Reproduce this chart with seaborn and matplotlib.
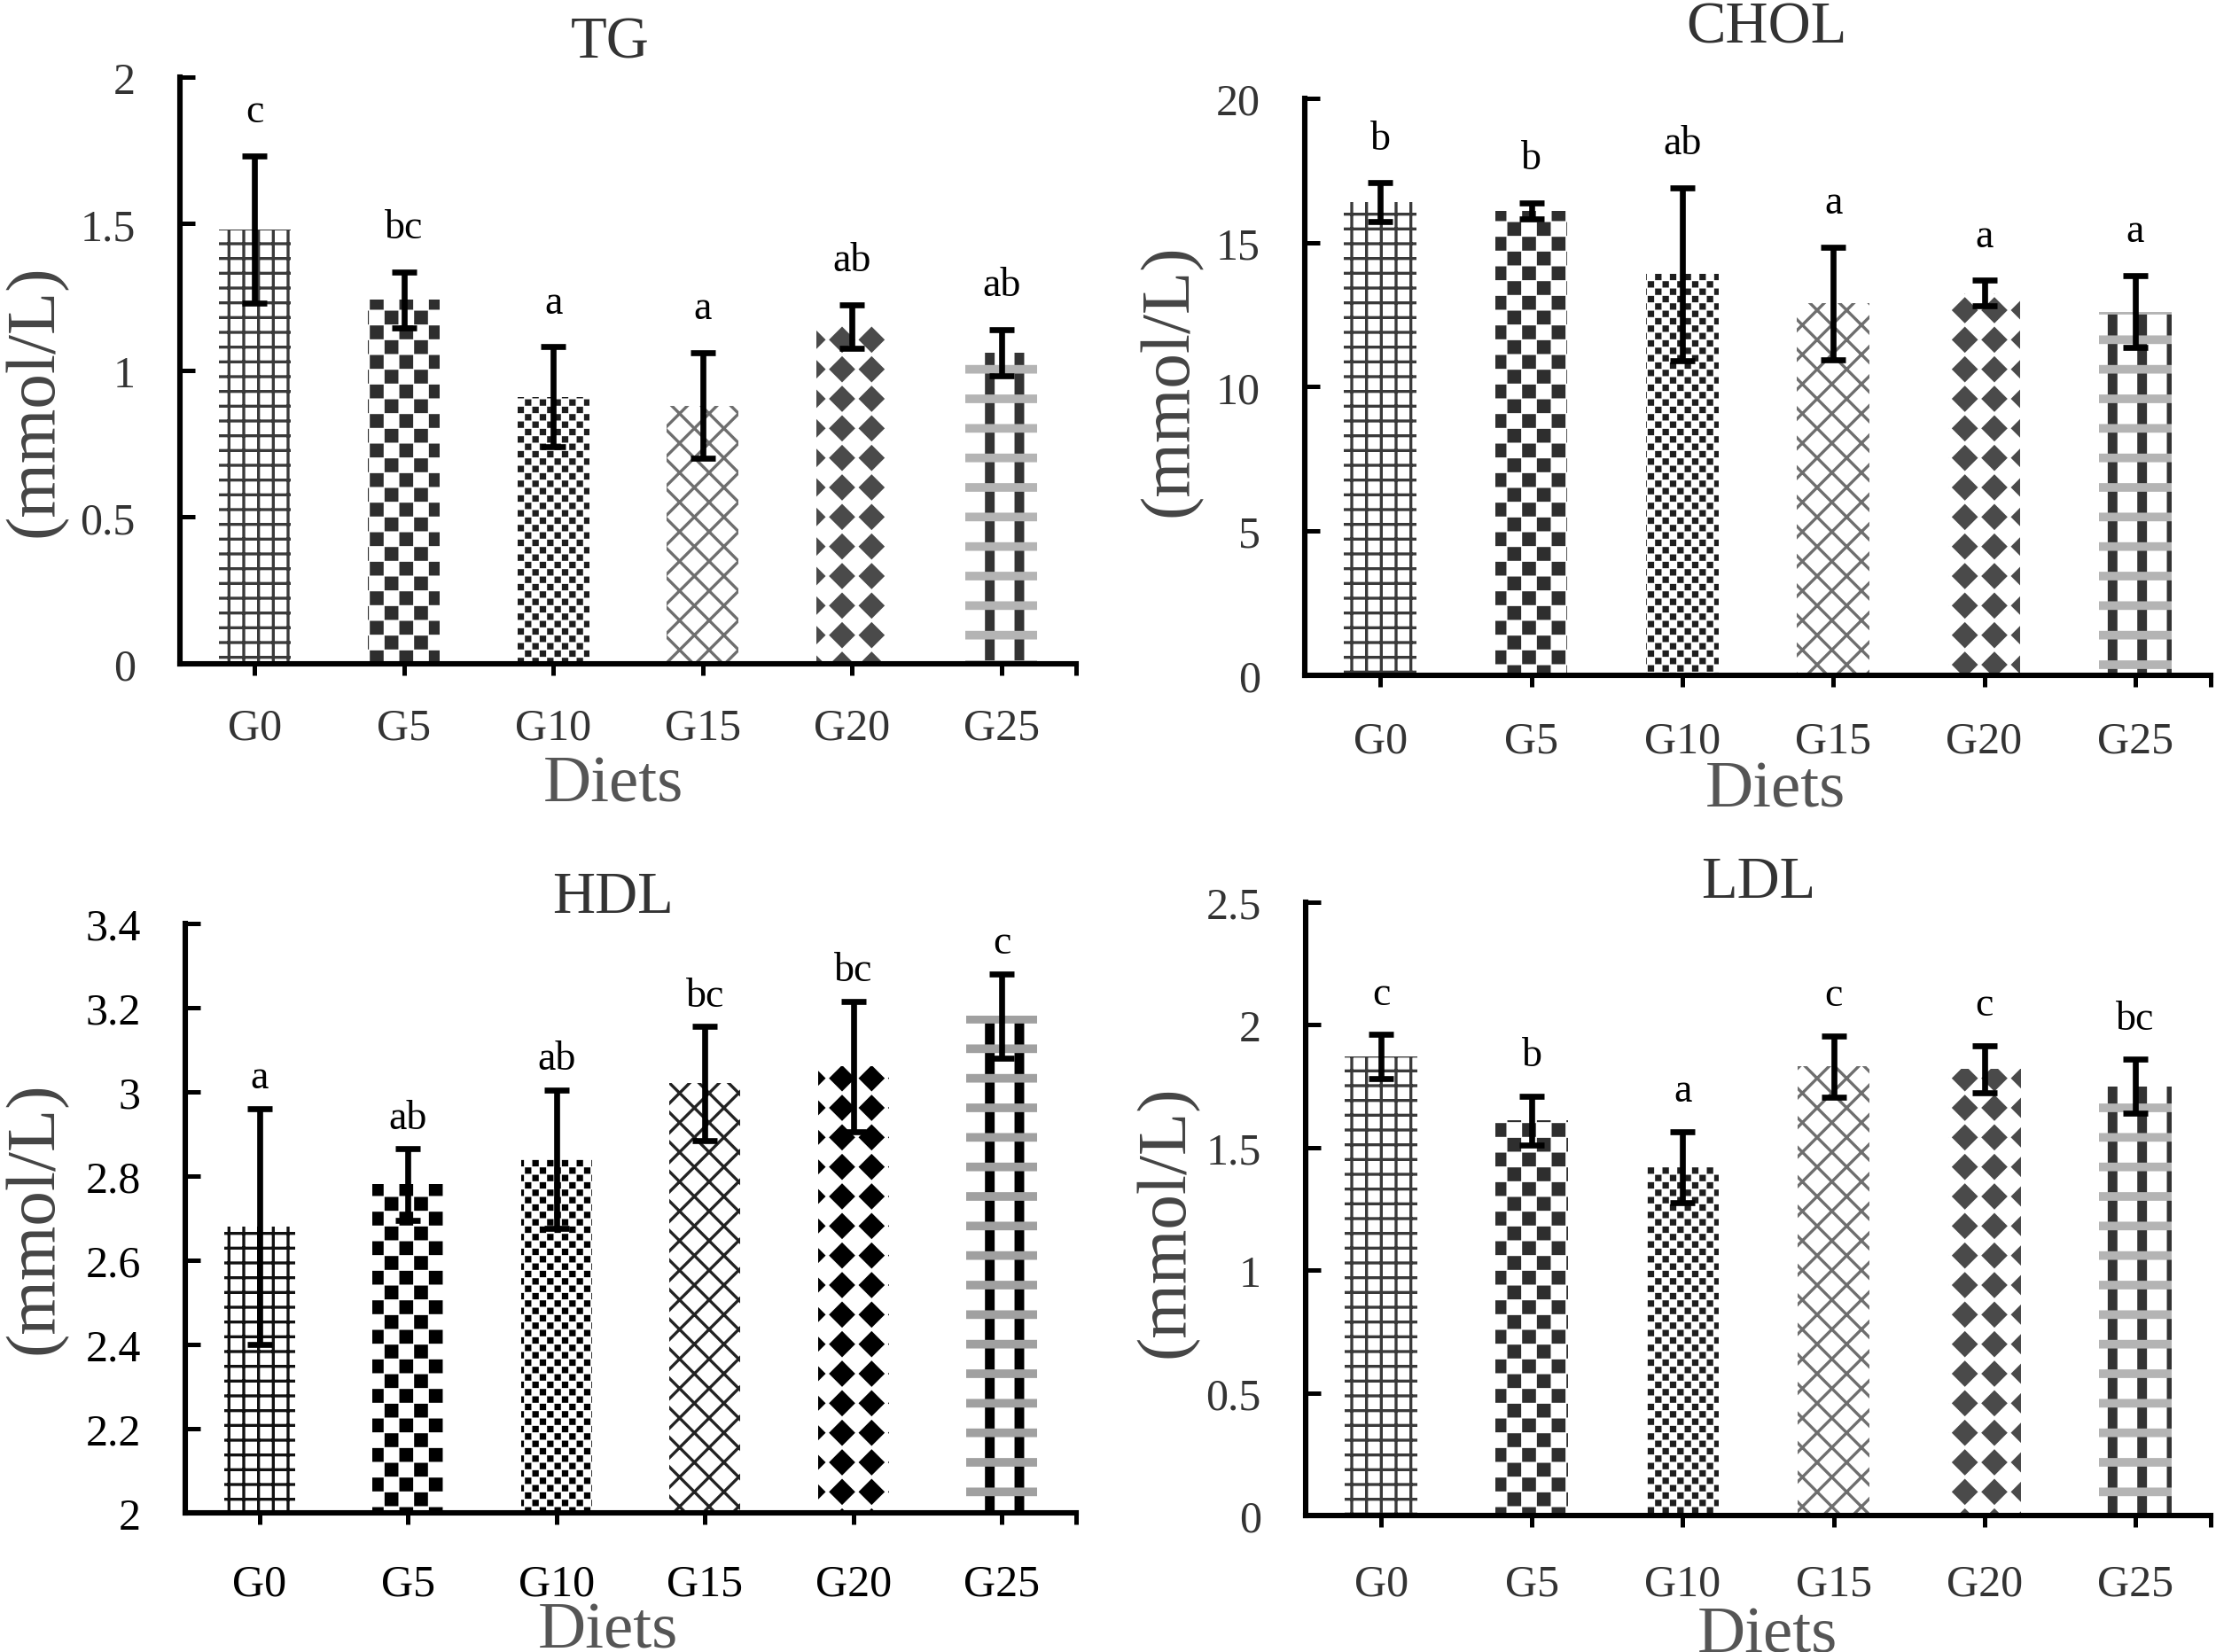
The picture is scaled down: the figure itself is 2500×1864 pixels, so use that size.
import numpy as np
import matplotlib
matplotlib.use("Agg")
import matplotlib.pyplot as plt
import matplotlib.hatch as mhatch
from matplotlib.path import Path
from matplotlib.ticker import FuncFormatter
import seaborn as sns

sns.set_style("white")
plt.rcParams['font.family'] = ['Liberation Serif', 'DejaVu Serif']
plt.rcParams['hatch.linewidth'] = 1.2

# data (mean, +/- error, letters)
diets = ["G0", "G5", "G10", "G15", "G20", "G25"]

tg_mean = [1.48, 1.24, 0.91, 0.88, 1.15, 1.06]
tg_sd = [0.25, 0.095, 0.17, 0.18, 0.074, 0.078]
tg_letters = ["c", "bc", "a", "a", "ab", "ab"]

chol_mean = [16.4, 16.1, 13.9, 12.9, 13.25, 12.6]
chol_sd = [0.67, 0.27, 3.0, 1.95, 0.44, 1.25]
chol_letters = ["b", "b", "ab", "a", "a", "a"]

hdl_mean = [2.68, 2.78, 2.84, 3.02, 3.06, 3.18]
hdl_sd = [0.28, 0.085, 0.165, 0.135, 0.155, 0.10]
hdl_letters = ["a", "ab", "ab", "bc", "bc", "c"]

ldl_mean = [1.87, 1.61, 1.42, 1.83, 1.82, 1.75]
ldl_sd = [0.09, 0.10, 0.145, 0.125, 0.095, 0.11]
ldl_letters = ["c", "b", "a", "c", "c", "bc"]

tg_ticks = [0, 0.5, 1, 1.5, 2]
chol_ticks = [0, 5, 10, 15, 20]
hdl_ticks = [2, 2.2, 2.4, 2.6, 2.8, 3, 3.2, 3.4]
ldl_ticks = [0, 0.5, 1, 1.5, 2, 2.5]


# extra fill patterns (Excel-like): checkerboard, diamonds, columns, bands
def _rect(cx, cy, hx, hy):
    return [(cx - hx, cy - hy), (cx + hx, cy - hy), (cx + hx, cy + hy),
            (cx - hx, cy + hy), (cx - hx, cy - hy)]


class FilledShapes(mhatch.HatchPatternBase):
    char = None

    def __init__(self, hatch, density):
        self.n = int(hatch.count(self.char) * density)
        self.shapes = self.make_shapes() if self.n else []
        self.num_vertices = 5 * len(self.shapes)

    def set_vertices_and_codes(self, vertices, codes):
        for k, shape in enumerate(self.shapes):
            vertices[5 * k:5 * k + 5] = shape
            codes[5 * k:5 * k + 5] = [Path.MOVETO, Path.LINETO, Path.LINETO,
                                      Path.LINETO, Path.CLOSEPOLY]


class Checker(FilledShapes):
    char = 'o'

    def make_shapes(self):
        s = 1.0 / self.n
        h = (s - 0.022) / 2
        return [_rect((i + .5) * s, (j + .5) * s, h, h)
                for i in range(self.n) for j in range(self.n) if (i + j) % 2 == 0]


class Diamonds(FilledShapes):
    char = 'O'

    def make_shapes(self):
        s = 1.0 / self.n
        h = s / 2 - 0.021
        out = []
        for i in range(self.n):
            for j in range(self.n):
                cx, cy = (i + .5) * s, (j + .5) * s
                out.append([(cx, cy - h), (cx + h, cy), (cx, cy + h), (cx - h, cy), (cx, cy - h)])
        return out


class Columns(FilledShapes):
    char = '.'

    def make_shapes(self):
        s = 1.0 / self.n
        return [_rect((i + .5) * s, 0.5, 0.019, 0.5) for i in range(self.n)]


class Bands(FilledShapes):
    char = '*'

    def make_shapes(self):
        s = 1.0 / self.n
        return [_rect(0.5, (j + .5) * s, 0.5, 0.016) for j in range(self.n)]


mhatch._hatch_types = [mhatch.HorizontalHatch, mhatch.VerticalHatch,
                       mhatch.NorthEastHatch, mhatch.SouthEastHatch,
                       Checker, Diamonds, Columns, Bands]

hatches = ['++', 'oo', 'oooo', 'xx', 'O', '.']

grey_cols = ['#3a3a3a', '#2e2e2e', '#1e1e1e', '#6e6e6e', '#4a4a4a', '#333333']
black_cols = ['#111111', '#000000', '#000000', '#222222', '#000000', '#000000']

panels = [
    dict(name="TG", mean=tg_mean, sd=tg_sd, letters=tg_letters, ticks=tg_ticks,
         rect=[0.0812, 0.5979, 0.4044, 0.3550], ylab=(-0.161, 0.449), xlab=(0.484, -0.156),
         title=(0.48, 1.033), off=18, xpad=13, cols=grey_cols, band='#b4b4b4', tcol='#333333'),
    dict(name="CHOL", mean=chol_mean, sd=chol_sd, letters=chol_letters, ticks=chol_ticks,
         rect=[0.5888, 0.5909, 0.4088, 0.3491], ylab=(-0.149, 0.513), xlab=(0.52, -0.147),
         title=(0.51, 1.097), off=18, xpad=14, cols=grey_cols, band='#b4b4b4', tcol='#333333'),
    dict(name="HDL", mean=hdl_mean, sd=hdl_sd, letters=hdl_letters, ticks=hdl_ticks,
         rect=[0.0836, 0.0842, 0.4020, 0.3566], ylab=(-0.168, 0.502), xlab=(0.475, -0.150),
         title=(0.48, 1.0195), off=12.5, xpad=16, cols=black_cols, band='#a0a0a0', tcol='#000000'),
    dict(name="LDL", mean=ldl_mean, sd=ldl_sd, letters=ldl_letters, ticks=ldl_ticks,
         rect=[0.5892, 0.0826, 0.4084, 0.3710], ylab=(-0.154, 0.481), xlab=(0.51, -0.148),
         title=(0.50, 1.009), off=16.5, xpad=15, cols=grey_cols, band='#b4b4b4', tcol='#333333'),
]

fig = plt.figure(figsize=(12.5, 9.325), dpi=200)

for p in panels:
    ax = fig.add_axes(p["rect"])
    sns.barplot(x=diets, y=p["mean"], ax=ax, color="white", saturation=1,
                width=0.48, linewidth=0, errorbar=None)

    for bar, h, c in zip(ax.patches, hatches, p["cols"]):
        bar.set_hatch(h)
        bar.set_edgecolor(c)
        bar.set_linewidth(0)
    # grey bands laid over the last bar
    last = ax.patches[len(diets) - 1]
    ax.bar(last.get_x() + last.get_width() / 2, last.get_height(), width=last.get_width(),
           fill=False, hatch='*', edgecolor=p["band"], linewidth=0)

    xs = np.arange(len(diets))
    ax.errorbar(xs, p["mean"], yerr=p["sd"], fmt='none', ecolor='black',
                elinewidth=2.4, capsize=5, capthick=2.4, zorder=4)

    for x, m, s, lab in zip(xs, p["mean"], p["sd"], p["letters"]):
        ax.annotate(lab, xy=(x, m + s), xytext=(0, p["off"]), textcoords='offset points',
                    ha='center', va='center', fontsize=16.5, color='black')

    ax.set_ylim(p["ticks"][0], p["ticks"][-1])
    ax.set_xlim(-0.5, len(diets) - 0.5)
    ax.set_yticks(p["ticks"])
    ax.yaxis.set_major_formatter(FuncFormatter(lambda v, _: f"{v:g}"))
    ax.set_xticks(xs)
    ax.set_xticklabels(diets)
    ax.set_xticks([len(diets) - 0.5], minor=True)

    sns.despine(ax=ax)
    for side in ["left", "bottom"]:
        ax.spines[side].set_linewidth(2.2)
        ax.spines[side].set_color('black')

    ax.tick_params(axis='y', direction='in', length=6, width=1.8, pad=18,
                   labelsize=18, labelcolor=p["tcol"], color='black', left=True)
    ax.tick_params(axis='x', which='both', direction='out', length=4.5, width=1.8,
                   pad=p["xpad"], labelsize=18, labelcolor=p["tcol"], color='black', bottom=True)

    ax.set_ylabel("(mmol/L)", fontsize=28.5, color='#444444', va='center')
    ax.yaxis.set_label_coords(*p["ylab"])
    ax.set_xlabel("Diets", fontsize=27, color='#555555')
    ax.xaxis.set_label_coords(*p["xlab"])
    ax.set_title(p["name"], fontsize=24, color='#333333',
                 x=p["title"][0], y=p["title"][1], pad=0)

fig.savefig("out.png", dpi=200)
